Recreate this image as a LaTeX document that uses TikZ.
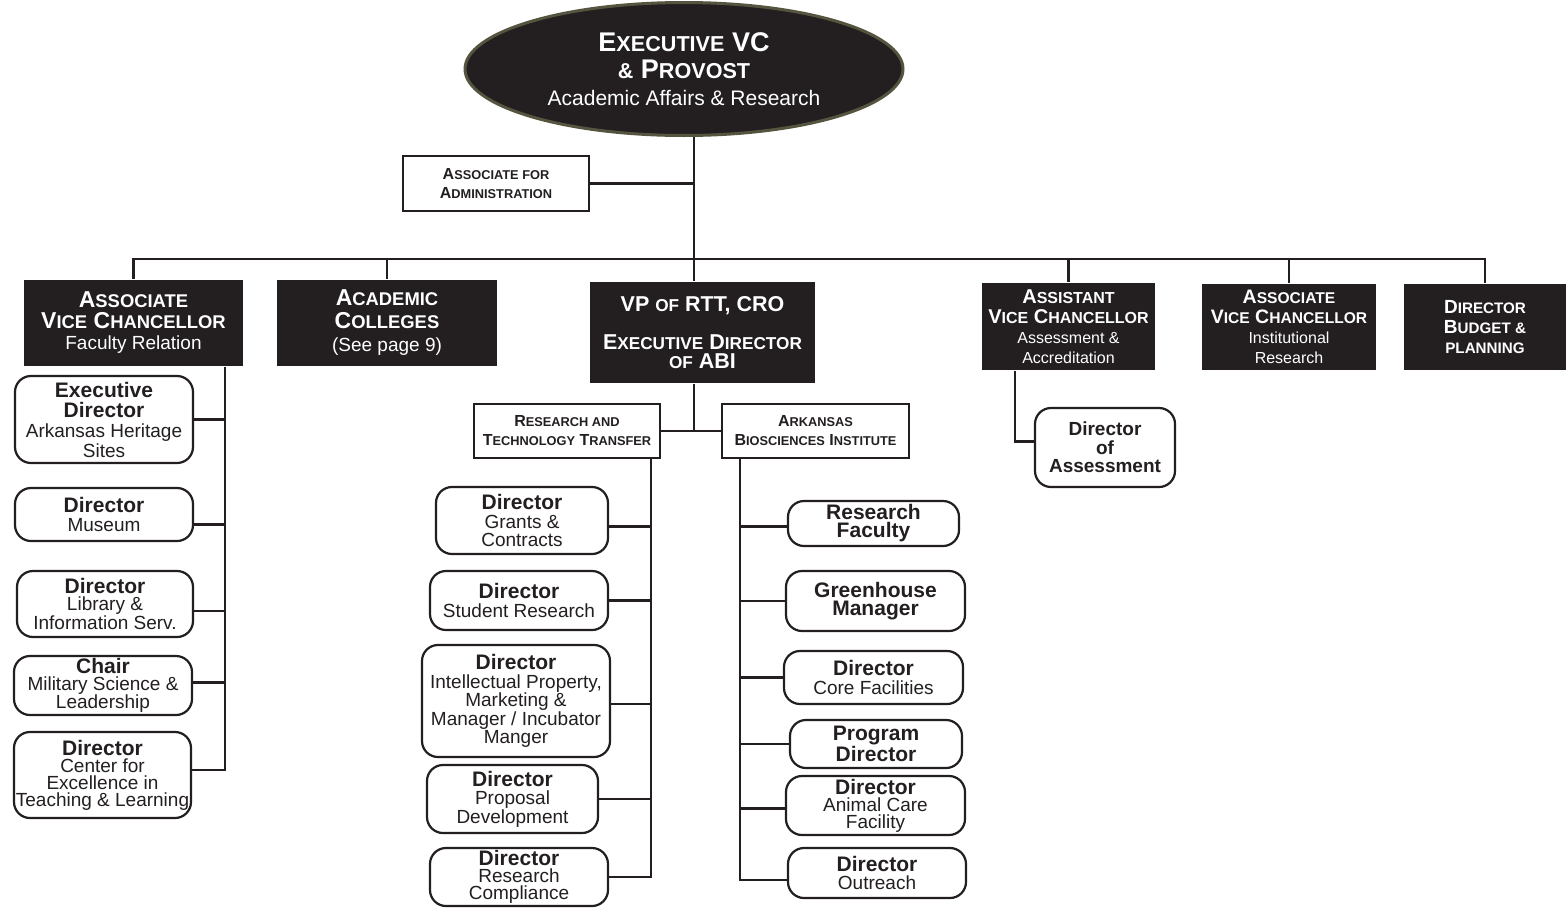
\documentclass[tikz,border=0pt]{standalone}
\usepackage{fontspec}
\setmainfont{Liberation Sans}
\usetikzlibrary{shapes.geometric}

\definecolor{ink}{HTML}{231F20}
\definecolor{rim}{HTML}{55553F}

\newcommand\fs[2]{\fontsize{#1}{#2}\selectfont}
\newcommand\smallc[1]{\scalebox{0.8}{#1}}
\newcommand\boss[1]{{\bfseries\fontsize{21}{\baselineskip}\selectfont #1}}

\tikzset{
  head/.style={rectangle, fill=ink, text=white, inner sep=0pt, align=center,
               font=\bfseries\fs{23}{21}},
  unit/.style={rectangle, draw=ink, line width=1.4pt, fill=white, inner sep=0pt,
               align=center, font=\bfseries\fs{16}{19}},
  office/.style={rectangle, rounded corners=16pt, draw=ink, line width=2.2pt,
                 fill=white, inner sep=0pt, align=center, font=\fs{19}{18.5}},
}

\begin{document}
\begin{tikzpicture}[x=1pt,y=-1pt,line width=2.8pt,draw=ink,text=ink]
    \useasboundingbox (0,0) rectangle (1566,908);

    % top
    \node[ellipse, fill=ink, draw=rim, line width=3pt, text=white, align=center,
          minimum width=438, minimum height=133, inner sep=0pt,
          font=\bfseries\fs{27}{27}] (ceo) at (684,69)
        {E\smallc{XECUTIVE} VC\\\smallc{\&} P\smallc{ROVOST}\\
         {\mdseries\fs{21}{27}Academic Affairs \& Research}};
    \node[unit, minimum width=186, minimum height=55] (admin) at (496,183.5)
        {A\smallc{SSOCIATE FOR}\\A\smallc{DMINISTRATION}};

    % second row
    \begin{scope}[every node/.style={head}]
        \node[minimum width=219, minimum height=86] (avcf) at (133.5,323)
            {A\smallc{SSOCIATE}\\V\smallc{ICE} C\smallc{HANCELLOR}\\
             {\mdseries\fs{19}{21}Faculty Relation}};
        \node[minimum width=220, minimum height=86, font=\bfseries\fs{23}{23}] (acol) at (387,323)
            {A\smallc{CADEMIC}\\C\smallc{OLLEGES}\\{\mdseries\fs{19}{23}(See page 9)}};
        \node[minimum width=225, minimum height=101, font=\bfseries\fs{21.5}{19}] (vprtt) at (702.5,332.5)
            {VP \smallc{OF} RTT, CRO\\[19pt]E\smallc{XECUTIVE} D\smallc{IRECTOR}\\\smallc{OF} ABI};
        \node[minimum width=173, minimum height=87, font=\bfseries\fs{20}{20}] (avca) at (1068.5,326.5)
            {A\smallc{SSISTANT}\\V\smallc{ICE} C\smallc{HANCELLOR}\\
             {\mdseries\fs{16}{20}Assessment \&}\\{\mdseries\fs{16}{20}Accreditation}};
        \node[minimum width=174, minimum height=86, font=\bfseries\fs{19.5}{20}] (avcir) at (1289,327)
            {A\smallc{SSOCIATE}\\V\smallc{ICE} C\smallc{HANCELLOR}\\
             {\mdseries\fs{16}{20}Institutional}\\{\mdseries\fs{16}{20}Research}};
        \node[minimum width=162, minimum height=86, font=\bfseries\fs{19}{20}] (dbud) at (1485,327)
            {D\smallc{IRECTOR}\\B\smallc{UDGET \&}\\\smallc{PLANNING}};
    \end{scope}

    \node[unit, minimum width=186, minimum height=54] (rtt) at (567,431)
        {R\smallc{ESEARCH AND}\\T\smallc{ECHNOLOGY} T\smallc{RANSFER}};
    \node[unit, minimum width=187, minimum height=54] (abi) at (815.5,431)
        {A\smallc{RKANSAS}\\B\smallc{IOSCIENCES} I\smallc{NSTITUTE}};

    % faculty relation
    \begin{scope}[every node/.style={office}]
        \node[minimum width=178, minimum height=87, font=\fs{19}{20}] (ed) at (104,419.5)
            {\boss{Executive}\\\boss{Director}\\Arkansas Heritage\\Sites};
        \node[minimum width=178, minimum height=53] (mus) at (104,514.5)
            {\boss{Director}\\Museum};
        \node[minimum width=176, minimum height=66, font=\fs{19}{16.5}] (lib) at (105,604)
            {\boss{Director}\\Library \&\\Information Serv.};
        \node[minimum width=178, minimum height=59, font=\fs{19}{16.5}] (chair) at (103,685.5)
            {\boss{Chair}\\Military Science \&\\Leadership};
        \node[minimum width=177, minimum height=86, font=\fs{19}{17}] (ctl) at (102.5,775)
            {\boss{Director}\\Center for\\Excellence in\\Teaching \& Learning};

        % research and technology transfer
        \node[minimum width=172, minimum height=67] (grants) at (522,520.5)
            {\boss{Director}\\Grants \&\\Contracts};
        \node[minimum width=178, minimum height=59] (stud) at (519,600.5)
            {\boss{Director}\\Student Research};
        \node[minimum width=188, minimum height=112] (ip) at (516,701)
            {\boss{Director}\\Intellectual Property,\\Marketing \&\\Manager / Incubator\\Manger};
        \node[minimum width=171, minimum height=68] (prop) at (512.5,799)
            {\boss{Director}\\Proposal\\Development};
        \node[minimum width=178, minimum height=58, font=\fs{19}{17}] (comp) at (519,877)
            {\boss{Director}\\Research\\Compliance};

        % biosciences institute
        \node[minimum width=171, minimum height=45, font=\bfseries\fs{21}{18}] (rfac) at (873.5,523.5)
            {Research\\Faculty};
        \node[minimum width=179, minimum height=60, font=\bfseries\fs{21}{18}] (green) at (875.5,601)
            {Greenhouse\\Manager};
        \node[minimum width=179, minimum height=53] (core) at (873.5,677.5)
            {\boss{Director}\\Core Facilities};
        \node[minimum width=172, minimum height=48, font=\bfseries\fs{21}{19}] (prog) at (876,744)
            {Program\\Director};
        \node[minimum width=179, minimum height=59, font=\fs{19}{17}] (anim) at (875.5,805.5)
            {\boss{Director}\\Animal Care\\Facility};
        \node[minimum width=178, minimum height=50, font=\fs{19}{18}] (outr) at (877,873)
            {\boss{Director}\\Outreach};

        % assessment
        \node[minimum width=140, minimum height=79, font=\bfseries\fs{19}{18.5}] (dass) at (1105,447.5)
            {Director\\of\\Assessment};
    \end{scope}

    % lines
    \coordinate (bus) at (694,259);
    \coordinate (split) at (694,430);
    \coordinate (avcline) at (225,0);
    \coordinate (rttline) at (651,0);
    \coordinate (abiline) at (740,0);
    \coordinate (asline) at (1015,0);

    \draw (ceo.south -| bus) -- (bus);
    \draw (admin.east) -- (admin.east -| bus);
    \draw (avcf.north) |- (bus) -| (dbud.north);
    \draw (acol.north) -- (acol.north |- bus);
    \draw (avca.north) -- (avca.north |- bus);
    \draw (avcir.north) -- (avcir.north |- bus);
    \draw (bus) -- (vprtt.north -| bus);

    \draw (vprtt.south -| split) -- (split);
    \draw (rtt.east) -- (abi.west);

    \draw (avcf.south -| avcline) |- ([yshift=5pt]ctl.east);
    \draw (ed.east) -- (ed.east -| avcline);
    \draw ([yshift=-10pt]mus.east) -- ([yshift=-10pt]mus.east -| avcline);
    \draw ([yshift=-7pt]lib.east) -- ([yshift=-7pt]lib.east -| avcline);
    \draw ([yshift=3pt]chair.east) -- ([yshift=3pt]chair.east -| avcline);

    \draw (rtt.south -| rttline) |- (comp.east);
    \draw ([yshift=-6pt]grants.east) -- ([yshift=-6pt]grants.east -| rttline);
    \draw (stud.east) -- (stud.east -| rttline);
    \draw ([yshift=-3pt]ip.east) -- ([yshift=-3pt]ip.east -| rttline);
    \draw (prop.east) -- (prop.east -| rttline);

    \draw (abi.south -| abiline) |- ([yshift=-7pt]outr.west);
    \draw ([yshift=-3pt]rfac.west) -- ([yshift=-3pt]rfac.west -| abiline);
    \foreach \n in {green,core,prog}
        \draw (\n.west) -- (\n.west -| abiline);
    \draw ([yshift=-3pt]anim.west) -- ([yshift=-3pt]anim.west -| abiline);

    \draw (avca.south -| asline) |- ([yshift=6pt]dass.west);
\end{tikzpicture}
\end{document}
